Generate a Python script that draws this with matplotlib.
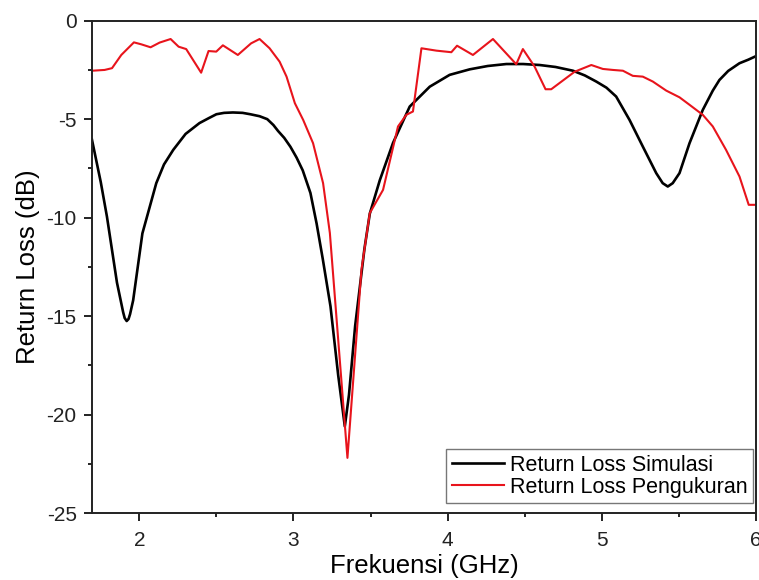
import matplotlib
matplotlib.use("Agg")
import matplotlib.pyplot as plt
from matplotlib.ticker import MultipleLocator

plt.rcParams['font.family'] = ['Liberation Sans', 'DejaVu Sans']
plt.rcParams['axes.unicode_minus'] = False

# simulated return loss (GHz, dB)
sim_freq = [1.693, 1.75, 1.79, 1.855, 1.895, 1.905, 1.918, 1.93, 1.94, 1.96,
            2.02, 2.11, 2.16, 2.22, 2.30, 2.39, 2.45, 2.5, 2.55, 2.607,
            2.67, 2.72, 2.78, 2.83, 2.87, 2.9, 2.94, 2.98, 3.02, 3.06,
            3.11, 3.15, 3.19, 3.24, 3.29, 3.333, 3.36, 3.40, 3.46, 3.495,
            3.56, 3.646, 3.754, 3.884, 4.013, 4.143, 4.26, 4.381, 4.49, 4.597,
            4.70, 4.813, 4.89, 4.964, 5.03, 5.093, 5.18, 5.266, 5.353, 5.395,
            5.428, 5.46, 5.504, 5.569, 5.655, 5.72, 5.763, 5.82, 5.893, 5.95,
            6.0]
sim_rl = [-6.05, -8.2, -9.95, -13.3, -14.8, -15.1, -15.25, -15.15, -14.9, -14.2,
          -10.8, -8.25, -7.3, -6.56, -5.75, -5.2, -4.95, -4.75, -4.68, -4.66,
          -4.68, -4.75, -4.85, -5.0, -5.3, -5.6, -5.95, -6.4, -6.95, -7.6,
          -8.75, -10.3, -12.1, -14.5, -18.0, -20.6, -19.0, -15.5, -11.6, -9.8,
          -8.1, -6.2, -4.36, -3.35, -2.75, -2.47, -2.3, -2.2, -2.2, -2.25,
          -2.35, -2.54, -2.78, -3.09, -3.4, -3.85, -5.04, -6.39, -7.74, -8.25,
          -8.42, -8.25, -7.74, -6.22, -4.53, -3.55, -3.01, -2.55, -2.16, -1.98,
          -1.8]

# measured return loss (GHz, dB)
meas_freq = [1.693, 1.775, 1.823, 1.883, 1.965, 2.013, 2.073, 2.132, 2.203, 2.255,
             2.304, 2.401, 2.449, 2.499, 2.542, 2.639, 2.725, 2.780, 2.845, 2.910,
             2.955, 3.009, 3.063, 3.127, 3.192, 3.236, 3.350, 3.441, 3.495, 3.581,
             3.678, 3.732, 3.775, 3.830, 3.927, 4.024, 4.061, 4.164, 4.294, 4.445,
             4.488, 4.564, 4.635, 4.672, 4.824, 4.932, 5.007, 5.072, 5.137, 5.201,
             5.266, 5.331, 5.418, 5.504, 5.569, 5.655, 5.72, 5.806, 5.893, 5.953,
             6.0]
meas_rl = [-2.54, -2.50, -2.41, -1.74, -1.10, -1.20, -1.35, -1.11, -0.93, -1.32,
           -1.44, -2.64, -1.54, -1.57, -1.25, -1.74, -1.15, -0.93, -1.40, -2.08,
           -2.84, -4.19, -5.04, -6.22, -8.25, -10.78, -22.2, -12.64, -9.77, -8.59,
           -5.37, -4.78, -4.61, -1.40, -1.52, -1.60, -1.27, -1.74, -0.93, -2.21,
           -1.44, -2.33, -3.48, -3.48, -2.59, -2.25, -2.45, -2.50, -2.54, -2.80,
           -2.84, -3.09, -3.55, -3.89, -4.27, -4.78, -5.37, -6.56, -7.91, -9.35,
           -9.35]

fig = plt.figure(figsize=(7.59, 5.80), dpi=100)
ax = fig.add_axes([0.1212, 0.1155, 0.8748, 0.8488])

ax.plot(sim_freq, sim_rl, color='black', lw=1.9, label='Return Loss Simulasi')
ax.plot(meas_freq, meas_rl, color='#e8141c', lw=1.5, label='Return Loss Pengukuran')

ax.set_xlim(1.693, 6.0)
ax.set_ylim(-25, 0)
ax.xaxis.set_major_locator(MultipleLocator(1))
ax.xaxis.set_minor_locator(MultipleLocator(0.5))
ax.yaxis.set_major_locator(MultipleLocator(5))
ax.yaxis.set_minor_locator(MultipleLocator(2.5))
ax.tick_params(which='major', direction='out', length=6, width=1.4,
               labelsize=15, pad=5, colors='#222222')
ax.tick_params(axis='x', which='major', pad=7)
ax.tick_params(which='minor', direction='out', length=3, width=1.2)
for s in ax.spines.values():
    s.set_linewidth(1.4)
    s.set_color('#222222')

ax.set_xlabel('Frekuensi (GHz)', fontsize=18.5, labelpad=3)
ax.set_ylabel('Return Loss (dB)', fontsize=18.5, labelpad=5)

leg = ax.legend(loc='lower right', bbox_to_anchor=(0.9955, 0.02), borderaxespad=0,
                fontsize=15.5, frameon=True, fancybox=False,
                handlelength=2.4, handletextpad=0.3,
                borderpad=0.25, labelspacing=0.05)
leg.get_frame().set_edgecolor('#555555')
leg.get_frame().set_linewidth(1.0)

fig.savefig('out.png', dpi=100)
